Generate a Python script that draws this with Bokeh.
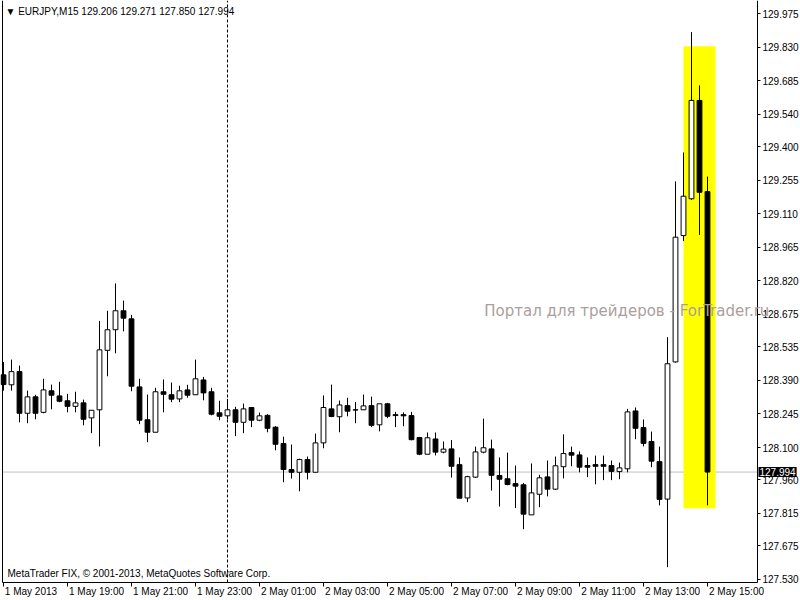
import pandas as pd
from bokeh.plotting import figure
from bokeh.models import (ColumnDataSource, FixedTicker, LinearAxis, Range1d,
                          Label, PrintfTickFormatter)
from bokeh.embed import file_html
from bokeh.resources import INLINE

# ---------------- data ----------------
symbol = "EURJPY,M15"
start_time = "2013-05-01 17:00"

opens = [128.414, 128.371, 128.428, 128.248, 128.319, 128.252, 128.345, 128.323, 128.302, 128.278,
         128.293, 128.228, 128.263, 128.520, 128.609, 128.691, 128.656, 128.362, 128.220, 128.166,
         128.341, 128.328, 128.310, 128.349, 128.328, 128.392, 128.341, 128.250, 128.237, 128.263,
         128.209, 128.273, 128.218, 128.239, 128.188, 128.117, 128.005, 127.993, 128.048, 127.993,
         128.120, 128.267, 128.233, 128.281, 128.263, 128.263, 128.281, 128.198, 128.289, 128.242,
         128.242, 128.238, 128.143, 128.071, 128.137, 128.080, 128.094, 128.026, 127.882, 127.972,
         128.080, 128.094, 127.979, 127.965, 127.944, 127.939, 127.809, 127.898, 127.973, 127.920,
         128.017, 128.078, 128.068, 128.022, 128.026, 128.026, 128.022, 127.996, 128.008, 128.258,
         128.186, 128.126, 128.039, 127.877, 128.470, 129.016, 129.175, 129.600, 129.206]
highs = [128.469, 128.480, 128.454, 128.346, 128.328, 128.397, 128.372, 128.384, 128.332, 128.341,
         128.307, 128.261, 128.647, 128.691, 128.809, 128.735, 128.673, 128.397, 128.329, 128.358,
         128.394, 128.381, 128.367, 128.371, 128.480, 128.405, 128.358, 128.302, 128.310, 128.276,
         128.290, 128.273, 128.251, 128.244, 128.192, 128.147, 128.113, 128.052, 128.061, 128.160,
         128.325, 128.372, 128.303, 128.315, 128.297, 128.329, 128.320, 128.289, 128.293, 128.254,
         128.252, 128.254, 128.146, 128.165, 128.165, 128.126, 128.132, 128.057, 127.978, 128.104,
         128.225, 128.134, 128.057, 128.078, 128.022, 127.947, 128.031, 127.982, 128.044, 128.061,
         128.157, 128.104, 128.083, 128.057, 128.065, 128.065, 128.044, 128.035, 128.267, 128.273,
         128.221, 128.169, 128.104, 128.577, 129.250, 129.375, 129.895, 129.665, 129.271]
lows = [128.346, 128.346, 128.209, 128.205, 128.222, 128.248, 128.265, 128.296, 128.252, 128.252,
        128.196, 128.162, 128.105, 128.408, 128.507, 128.602, 128.343, 128.201, 128.123, 128.166,
        128.252, 128.296, 128.296, 128.315, 128.328, 128.304, 128.239, 128.218, 128.222, 128.149,
        128.162, 128.188, 128.214, 128.166, 128.088, 127.950, 127.966, 127.911, 127.962, 127.993,
        128.097, 128.231, 128.166, 128.235, 128.205, 128.263, 128.188, 128.170, 128.227, 128.188,
        128.192, 128.131, 128.067, 128.071, 128.066, 128.075, 127.970, 127.881, 127.864, 127.969,
        128.075, 127.914, 127.845, 127.937, 127.838, 127.747, 127.809, 127.842, 127.889, 127.917,
        127.967, 128.019, 127.993, 127.972, 127.941, 127.959, 127.959, 127.963, 127.993, 128.136,
        128.105, 128.015, 127.850, 127.583, 128.467, 128.992, 129.170, 129.019, 127.850]
closes = [128.372, 128.428, 128.248, 128.319, 128.248, 128.349, 128.326, 128.300, 128.278, 128.293,
          128.222, 128.261, 128.522, 128.609, 128.691, 128.659, 128.365, 128.218, 128.166, 128.341,
          128.330, 128.309, 128.345, 128.326, 128.397, 128.336, 128.244, 128.235, 128.263, 128.209,
          128.267, 128.218, 128.237, 128.183, 128.114, 128.005, 127.993, 128.048, 127.993, 128.120,
          128.273, 128.234, 128.284, 128.257, 128.262, 128.280, 128.196, 128.289, 128.235, 128.238,
          128.237, 128.134, 128.071, 128.142, 128.080, 128.093, 128.019, 127.881, 127.974, 128.081,
          128.099, 127.980, 127.963, 127.940, 127.933, 127.812, 127.904, 127.969, 127.920, 128.021,
          128.074, 128.067, 128.015, 128.015, 128.019, 128.019, 127.997, 128.012, 128.254, 128.183,
          128.118, 128.041, 127.876, 128.462, 129.009, 129.186, 129.600, 129.203, 127.994]

price_ticks = [127.530, 127.675, 127.815, 127.960, 128.100, 128.245, 128.390, 128.535, 128.675,
               128.820, 128.965, 129.110, 129.255, 129.400, 129.540, 129.685, 129.830, 129.975]
time_tick_labels = ["1 May 2013", "1 May 19:00", "1 May 21:00", "1 May 23:00", "2 May 01:00",
                    "2 May 03:00", "2 May 05:00", "2 May 07:00", "2 May 09:00", "2 May 11:00",
                    "2 May 13:00", "2 May 15:00"]

highlight_bars = [85, 89]
highlight_prices = [127.838, 129.834]

watermark = "Портал для трейдеров - ForTrader.ru"
copyright_text = "MetaTrader FIX, © 2001-2013, MetaQuotes Software Corp."

# ---------------- derived ----------------
times = pd.date_range(start_time, periods=len(opens), freq="15min")
bars = list(range(len(opens)))
time_tick_bars = [i for i, t in enumerate(times) if t.minute == 0 and t.hour % 2 == 1]
day_breaks = [i for i in range(1, len(times)) if times[i].date() != times[i - 1].date()]

src = ColumnDataSource(dict(
    x=bars, high=highs, low=lows,
    top=[max(o, c) for o, c in zip(opens, closes)],
    bottom=[min(o, c) for o, c in zip(opens, closes)],
    fill=["white" if c > o else "black" for o, c in zip(opens, closes)],
))

# ---------------- layout constants ----------------
FONT = "Liberation Sans"
W, H = 800, 600
view_x = (-0.375, 99.625)         # whole canvas, incl. the price-scale strip
view_y = (127.4389, 130.0318)     # whole canvas, incl. the time-scale strip
chart_left = -0.125               # left frame line
scale_x = 94.25                   # price axis line (right edge of the chart)
chart_bottom = 127.5167           # time axis line (bottom edge of the chart)
chart_top = view_y[1]
px_per_bar = W / (view_x[1] - view_x[0])

p = figure(width=W, height=H, output_backend="svg", toolbar_location=None,
           x_range=Range1d(*view_x), y_range=Range1d(*view_y),
           y_axis_location="right",
           min_border_left=0, min_border_top=0, min_border_right=0, min_border_bottom=0)
p.grid.visible = False
p.outline_line_color = None

# price axis (drawn at the chart's right edge, labels to its right)
yax = p.yaxis[0]
yax.fixed_location = scale_x
yax.bounds = (chart_bottom, chart_top)
yax.ticker = FixedTicker(ticks=price_ticks, minor_ticks=[])
yax.formatter = PrintfTickFormatter(format="%.3f")
yax.major_tick_in = 0
yax.major_tick_out = 3
yax.minor_tick_in = 0
yax.minor_tick_out = 0
yax.major_label_standoff = 2
yax.major_label_text_font = FONT
yax.major_label_text_font_size = "10px"
yax.major_label_text_color = "black"
yax.axis_line_color = "black"
yax.major_tick_line_color = "black"

# time axis: marks as minor ticks at the bar times, labels shifted so each starts at its mark
half_widths_px = [26.5 if "2013" in s else 28.0 for s in time_tick_labels]
label_pos = [b + (hw + 1) / px_per_bar for b, hw in zip(time_tick_bars, half_widths_px)]
xax = p.xaxis[0]
xax.fixed_location = chart_bottom
xax.bounds = (chart_left, scale_x)
xax.ticker = FixedTicker(ticks=label_pos, minor_ticks=time_tick_bars)
xax.major_label_overrides = {pos: lab for pos, lab in zip(label_pos, time_tick_labels)}
xax.major_label_text_font = FONT
xax.major_label_text_font_size = "10px"
xax.major_label_text_color = "black"
xax.major_label_standoff = 0
xax.major_tick_in = 0
xax.major_tick_out = 4
xax.major_tick_line_color = None
xax.minor_tick_in = 0
xax.minor_tick_out = 4
xax.minor_tick_line_color = "black"
xax.axis_line_color = "black"

# left frame line
lax = LinearAxis(ticker=FixedTicker(ticks=[], minor_ticks=[]), fixed_location=chart_left,
                 bounds=(chart_bottom, chart_top),
                 major_tick_out=0, major_tick_in=0, minor_tick_out=0, minor_tick_in=0,
                 axis_line_color="black")
p.add_layout(lax, "left")

# highlight rectangle
p.quad(left=[highlight_bars[0]], right=[highlight_bars[1]],
       bottom=[highlight_prices[0]], top=[highlight_prices[1]],
       fill_color="#ffff00", line_color=None, level="underlay")

# last price line
p.segment(x0=[chart_left], x1=[scale_x], y0=[closes[-1]], y1=[closes[-1]],
          line_color="#c0c0c0", line_width=1, level="image")

# day separators
p.segment(x0=day_breaks, x1=day_breaks, y0=[chart_bottom] * len(day_breaks),
          y1=[chart_top] * len(day_breaks), line_color="black", line_width=1,
          line_dash="3 2", level="underlay")

# candles
p.segment(x0="x", y0="low", x1="x", y1="high", source=src, line_color="black", line_width=1)
p.vbar(x="x", width=0.6, top="top", bottom="bottom", source=src,
       fill_color="fill", line_color="black", line_width=1)

# title
title_text = "▼ " + symbol + "  " + " ".join(
    f"{v:.3f}" for v in (opens[-1], highs[-1], lows[-1], closes[-1]))
p.add_layout(Label(x=chart_left, y=chart_top, x_offset=3, y_offset=-5, text=title_text,
                   text_baseline="top", text_align="left", text_font=FONT,
                   text_font_size="10px", text_color="black"))

# copyright
p.add_layout(Label(x=chart_left, y=chart_bottom, x_offset=5, y_offset=3, text=copyright_text,
                   text_baseline="bottom", text_align="left", text_font=FONT,
                   text_font_size="10px", text_color="black"))

# watermark
p.add_layout(Label(x=60.1, y=128.69, text=watermark, text_baseline="middle",
                   text_align="left", text_font="DejaVu Sans", text_font_size="15px",
                   text_color="#ac9e9e", level="overlay"))

# last price box on the price scale
p.add_layout(Label(x=scale_x, y=closes[-1], x_offset=1, text=f"{closes[-1]:.3f}",
                   text_baseline="middle", text_align="left", text_font=FONT,
                   text_font_size="10px", text_color="white",
                   background_fill_color="black", padding=1))

open("out.html", "w").write(file_html(p, INLINE))
